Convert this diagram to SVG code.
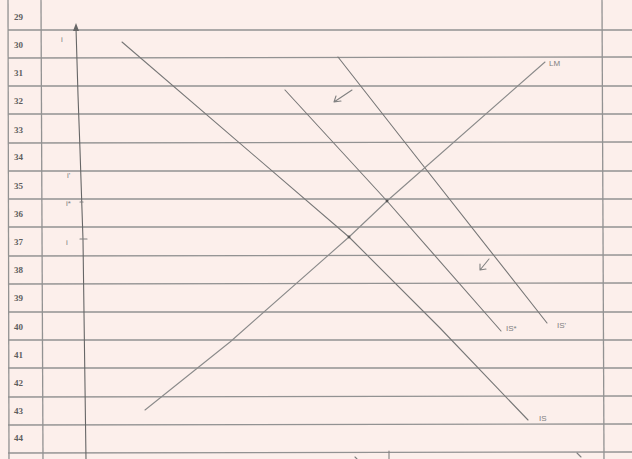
<svg xmlns="http://www.w3.org/2000/svg" width="632" height="459" viewBox="0 0 632 459">
<style>
.grid{stroke:#929292;stroke-width:1.3;fill:none}
.curve{stroke:#777;stroke-width:1.1;fill:none;stroke-linecap:round;stroke-linejoin:round}
.num{font-family:"Liberation Serif",serif;font-weight:bold;font-size:9px;fill:#5e5e5e}
.lab{font-family:"Liberation Sans",sans-serif;font-size:8px;fill:#808080}
.arr{stroke:#808080;stroke-width:1.1;fill:none;stroke-linecap:round;stroke-linejoin:round}
</style>
<rect width="632" height="459" fill="#fcefeb"/>
<g id="paper">
<g class="grid">
<line x1="8" y1="0" x2="9" y2="459"/>
<line x1="41" y1="0" x2="43" y2="459"/>
<line x1="602" y1="0" x2="604" y2="459"/>
<line x1="8" y1="30" x2="632" y2="30"/>
<line x1="8" y1="58" x2="632" y2="57"/>
<line x1="8" y1="86" x2="632" y2="86"/>
<line x1="8" y1="114" x2="632" y2="114"/>
<line x1="8" y1="143" x2="632" y2="142"/>
<line x1="8" y1="171" x2="632" y2="171"/>
<line x1="8" y1="199" x2="632" y2="199"/>
<line x1="8" y1="227" x2="632" y2="227"/>
<line x1="8" y1="256" x2="632" y2="255"/>
<line x1="8" y1="284" x2="632" y2="283"/>
<line x1="8" y1="312" x2="632" y2="312"/>
<line x1="8" y1="340" x2="632" y2="340"/>
<line x1="8" y1="368" x2="632" y2="368"/>
<line x1="8" y1="397" x2="632" y2="396"/>
<line x1="8" y1="425" x2="632" y2="424"/>
<line x1="8" y1="453" x2="632" y2="452"/>
</g>
<g class="num">
<text x="14" y="20">29</text>
<text x="14" y="48">30</text>
<text x="14" y="76">31</text>
<text x="14" y="104">32</text>
<text x="14" y="133">33</text>
<text x="14" y="160">34</text>
<text x="14" y="189">35</text>
<text x="14" y="217">36</text>
<text x="14" y="245">37</text>
<text x="14" y="273">38</text>
<text x="14" y="301">39</text>
<text x="14" y="330">40</text>
<text x="14" y="358">41</text>
<text x="14" y="386">42</text>
<text x="14" y="414">43</text>
<text x="14" y="441">44</text>
</g>
</g>
<g id="axes">
<path class="curve" d="M76,28 L78,95 L80,150 L83,240 L86,459" style="stroke:#666"/>
<polygon points="73,31 76,23 79,31" fill="#666"/>
<line class="arr" x1="80" y1="202" x2="83" y2="202"/>
<line class="arr" x1="80" y1="239" x2="87" y2="239"/>
<path class="arr" d="M355,457 L357,459 M389,451 L389,459 M577,453 L581,457"/>
</g>
<g id="axis-labels" class="lab">
<text x="61" y="42">i</text>
<text x="67" y="178">i'</text>
<text x="66" y="206">i*</text>
<text x="66" y="245">i</text>
</g>
<g id="connectors">
<polyline id="IS" class="curve" points="122,42 349,237 440,328 528,420"/>
<polyline id="IS-star" class="curve" points="285,90 387,201 501,331"/>
<polyline id="IS-prime" class="curve" points="338,57 403,140 547,323"/>
<polyline id="LM" class="curve" points="145,410 230,342 349,237 387,201 545,62" style="stroke:#8a8a8a"/>
<circle cx="387" cy="201" r="1.4" fill="#555"/>
<circle cx="349" cy="237" r="1.4" fill="#555"/>
<path class="arr" d="M352,90 L334,102 M334,102 L341,101 M334,102 L336,96"/>
<path class="arr" d="M489,259 L480,270 M480,270 L486,269 M480,270 L480,264"/>
</g>
<g id="curve-labels" class="lab">
<text x="549" y="66">LM</text>
<text x="506" y="331">IS*</text>
<text x="557" y="328">IS'</text>
<text x="539" y="421">IS</text>
</g>
</svg>
